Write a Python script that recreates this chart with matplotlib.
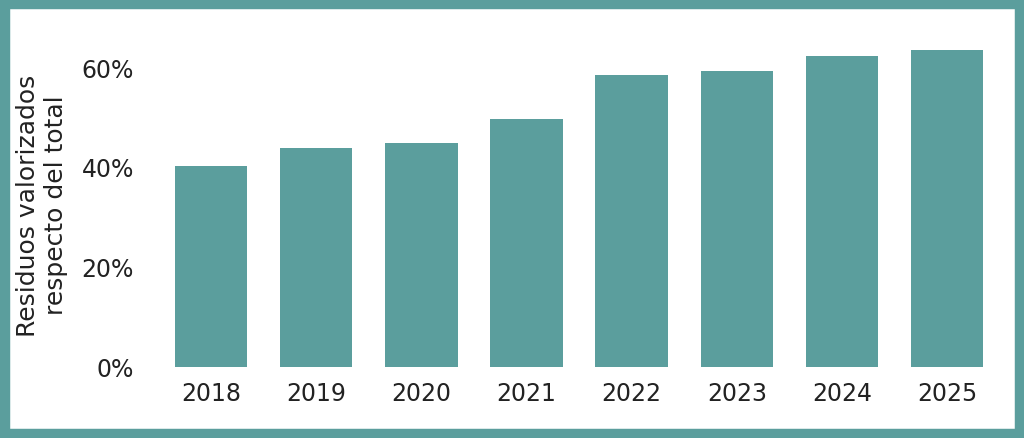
import matplotlib
matplotlib.use("Agg")
import matplotlib.pyplot as plt
from matplotlib.patches import Rectangle

years = ["2018", "2019", "2020", "2021", "2022", "2023", "2024", "2025"]
values = [40.2, 43.8, 44.8, 49.6, 58.4, 59.2, 62.2, 63.4]
yticks = [0, 20, 40, 60]
color = "#5b9e9d"

fig = plt.figure(figsize=(10.24, 4.39), dpi=100)
fig.patches.append(Rectangle((0, 0), 1, 1, transform=fig.transFigure, fill=False,
                             edgecolor=color, linewidth=14, zorder=10))
ax = fig.add_axes([0.1445, 0.162, 0.842, 0.740])
ax.bar(range(len(years)), values, width=0.69, color=color)
ax.set_xlim(-0.6, len(years) - 0.4)
ax.set_ylim(0, 65)
ax.set_yticks(yticks)
ax.set_yticklabels([f"{v}%" for v in yticks])
ax.set_xticks(range(len(years)))
ax.set_xticklabels(years)
for s in ax.spines.values():
    s.set_visible(False)
ax.tick_params(length=0, labelsize=17, colors="#222222", pad=10)
ax.set_ylabel("Residuos valorizados\nrespecto del total", fontsize=18, color="#222222", labelpad=10)
fig.savefig("out.png", dpi=100)
